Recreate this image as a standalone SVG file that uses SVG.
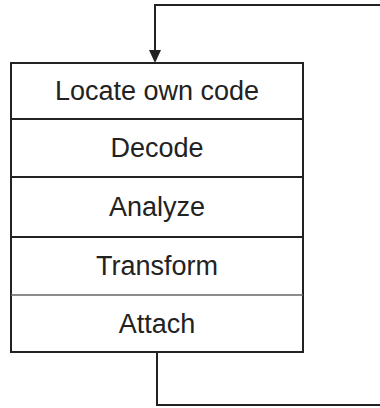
<svg xmlns="http://www.w3.org/2000/svg" width="380" height="408" viewBox="0 0 380 408">
  <style>
    .box { fill: #ffffff; stroke: #222222; stroke-width: 2; }
    .sep { stroke: #222222; stroke-width: 2; }
    .sep.light { stroke: #666666; stroke-width: 1.5; }
    .lbl { font-family: "Liberation Sans", Arial, sans-serif; font-size: 27px; fill: #222222; text-anchor: middle; }
    .wire { fill: none; stroke: #222222; stroke-width: 2; }
  </style>

  <!-- loop-back connector: from the bottom of the stack round to its top -->
  <g id="connectors">
    <polyline class="wire" points="157,352 157,405 390,405"/>
    <line class="wire" x1="390" y1="5" x2="155" y2="5"/>
    <line class="wire" x1="155" y1="4" x2="155" y2="50"/>
    <path d="M149,50 L161,50 L155,63 Z" fill="#222222"/>
  </g>

  <!-- stacked processing steps -->
  <g id="stack">
    <rect class="box" x="11" y="63" width="292" height="289"/>
  </g>
  <g id="locate">
    <text class="lbl" x="157" y="100">Locate own code</text>
  </g>
  <line class="sep" x1="11" y1="119" x2="303" y2="119"/>
  <g id="decode">
    <text class="lbl" x="157" y="157">Decode</text>
  </g>
  <line class="sep" x1="11" y1="177" x2="303" y2="177"/>
  <g id="analyze">
    <text class="lbl" x="157" y="216">Analyze</text>
  </g>
  <line class="sep" x1="11" y1="237" x2="303" y2="237"/>
  <g id="transform">
    <text class="lbl" x="157" y="275">Transform</text>
  </g>
  <line class="sep light" x1="11" y1="295" x2="303" y2="295"/>
  <g id="attach">
    <text class="lbl" x="157" y="333">Attach</text>
  </g>
</svg>
